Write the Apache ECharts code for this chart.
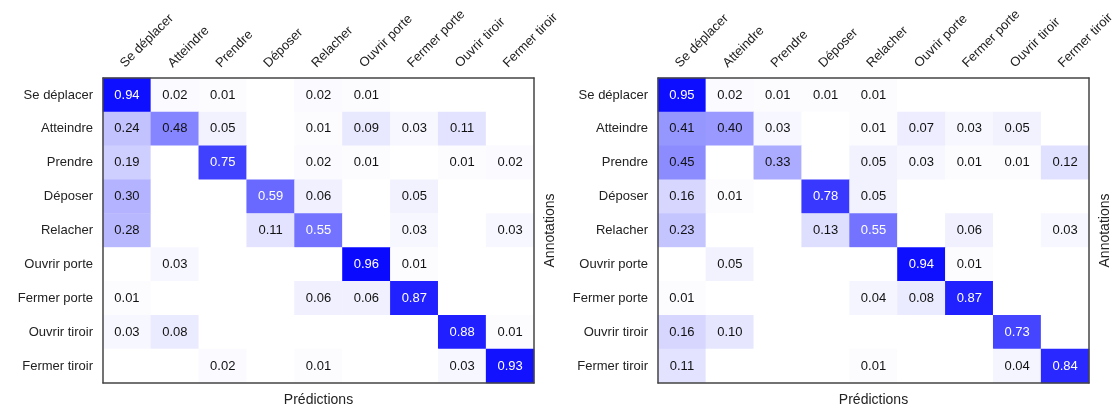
<!DOCTYPE html>
<html>
<head>
<meta charset="utf-8">
<script src="https://cdn.jsdelivr.net/npm/echarts@6/dist/echarts.min.js"></script>
<style>html,body{margin:0;padding:0;background:#fff;}#c{width:1118px;height:408px;}</style>
</head>
<body>
<div id="c"></div>
<script>
const classes = ['Se déplacer','Atteindre','Prendre','Déposer','Relacher','Ouvrir porte','Fermer porte','Ouvrir tiroir','Fermer tiroir'];
const xAxisName = 'Prédictions';
const yAxisName = 'Annotations';

const matrixLeft = [
  [0.94,0.02,0.01,0,0.02,0.01,0,0,0],
  [0.24,0.48,0.05,0,0.01,0.09,0.03,0.11,0],
  [0.19,0,0.75,0,0.02,0.01,0,0.01,0.02],
  [0.30,0,0,0.59,0.06,0,0.05,0,0],
  [0.28,0,0,0.11,0.55,0,0.03,0,0.03],
  [0,0.03,0,0,0,0.96,0.01,0,0],
  [0.01,0,0,0,0.06,0.06,0.87,0,0],
  [0.03,0.08,0,0,0,0,0,0.88,0.01],
  [0,0,0.02,0,0.01,0,0,0.03,0.93]
];
const matrixRight = [
  [0.95,0.02,0.01,0.01,0.01,0,0,0,0],
  [0.41,0.40,0.03,0,0.01,0.07,0.03,0.05,0],
  [0.45,0,0.33,0,0.05,0.03,0.01,0.01,0.12],
  [0.16,0.01,0,0.78,0.05,0,0,0,0],
  [0.23,0,0,0.13,0.55,0,0.06,0,0.03],
  [0,0.05,0,0,0,0.94,0.01,0,0],
  [0.01,0,0,0,0.04,0.08,0.87,0,0],
  [0.16,0.10,0,0,0,0,0,0.73,0],
  [0.11,0,0,0,0.01,0,0,0.04,0.84]
];

function toData(m){
  const out=[];
  m.forEach((row,r)=>row.forEach((v,c)=>out.push([c,r,v])));
  return out;
}
const FONT = 'Liberation Sans';
const lineStyle = {color:'#444', width:1.5};

function axesFor(gi){
  return {
    x: [
      {gridIndex:gi, type:'category', data:classes, position:'top', z:10,
       axisLine:{show:true, lineStyle}, axisTick:{show:false}, splitLine:{show:false},
       axisLabel:{rotate:-45, margin:8, align:'left', verticalAlign:'bottom',
         fontFamily:FONT, fontSize:13, color:'#222', interval:0}},
      {gridIndex:gi, type:'category', data:classes, position:'bottom', z:10,
       axisLine:{show:true, lineStyle}, axisTick:{show:false}, axisLabel:{show:false},
       name:xAxisName, nameLocation:'middle', nameGap:10,
       nameTextStyle:{fontFamily:FONT, fontSize:14, color:'#222'}}
    ],
    y: [
      {gridIndex:gi, type:'category', data:classes, inverse:true, position:'left', z:10,
       axisLine:{show:true, lineStyle}, axisTick:{show:false}, splitLine:{show:false},
       axisLabel:{margin:10, fontFamily:FONT, fontSize:13, color:'#222', interval:0}},
      {gridIndex:gi, type:'category', data:classes, inverse:true, position:'right', z:10,
       axisLine:{show:true, lineStyle}, axisTick:{show:false}, axisLabel:{show:false},
       name:yAxisName, nameLocation:'middle', nameGap:9, nameRotate:90,
       nameTextStyle:{fontFamily:FONT, fontSize:14, color:'#222'}}
    ]
  };
}
const a0 = axesFor(0), a1 = axesFor(1);

function labelFmt(p){
  const v = p.value[2];
  if (!v) return '';
  const s = v.toFixed(2);
  return v > 0.5 ? '{w|'+s+'}' : '{b|'+s+'}';
}
const seriesLabel = {
  show:true, formatter:labelFmt,
  rich:{
    w:{color:'#ffffff', fontFamily:FONT, fontSize:13},
    b:{color:'#111111', fontFamily:FONT, fontSize:13}
  }
};

const chart = echarts.init(document.getElementById('c'), null, {renderer:'canvas'});
chart.setOption({
  animation:false,
  backgroundColor:'#ffffff',
  grid:[
    {left:103, top:78, width:431, height:305, containLabel:false, outerBoundsMode:'none'},
    {left:658, top:78, width:431, height:305, containLabel:false, outerBoundsMode:'none'}
  ],
  xAxis:[...a0.x, ...a1.x],
  yAxis:[...a0.y, ...a1.y],
  visualMap:{show:false, min:0, max:1, seriesIndex:[0,1], dimension:2,
    inRange:{color:['#ffffff','#0000ff']}},
  series:[
    {type:'heatmap', xAxisIndex:0, yAxisIndex:0, data:toData(matrixLeft), label:seriesLabel,
     emphasis:{disabled:true}},
    {type:'heatmap', xAxisIndex:2, yAxisIndex:2, data:toData(matrixRight), label:seriesLabel,
     emphasis:{disabled:true}}
  ]
});
</script>
</body>
</html>
